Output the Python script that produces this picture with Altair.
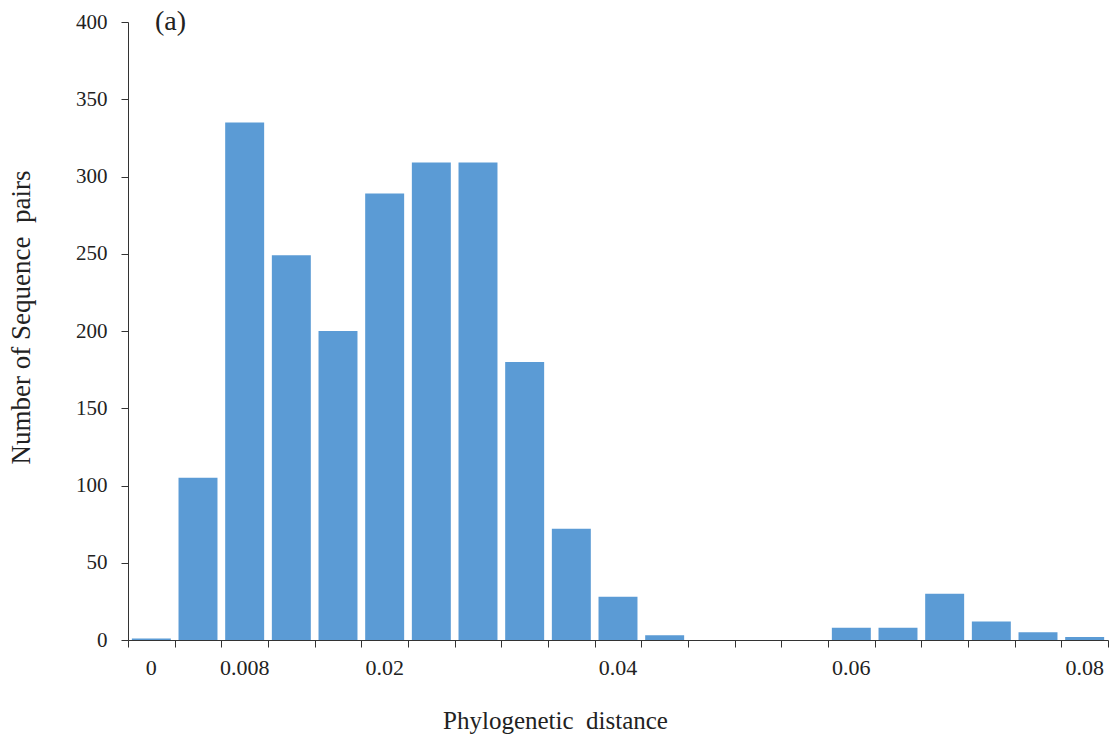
import altair as alt
import pandas as pd

# bin centres (phylogenetic distance) and counts
distance = [0.000, 0.004, 0.008, 0.012, 0.016, 0.020, 0.024, 0.028, 0.032, 0.036,
            0.040, 0.044, 0.048, 0.052, 0.056, 0.060, 0.064, 0.068, 0.072, 0.076, 0.080]
counts = [1, 105, 335, 249, 200, 289, 309, 309, 180, 72,
          28, 3, 0, 0, 0, 8, 8, 30, 12, 5, 2]

label_values = [0.0, 0.008, 0.02, 0.04, 0.06, 0.08]
label_texts = ["0", "0.008", "0.02", "0.04", "0.06", "0.08"]

boundaries = [round(-0.002 + 0.004 * i, 3) for i in range(22)]

df = pd.DataFrame({"dist": distance, "count": counts})
lab = pd.DataFrame({"x": label_values, "text": label_texts})

FONT = "Liberation Serif"
W, H = 980, 618
half = 0.00167

xscale = alt.Scale(domain=[-0.002, 0.082], nice=False, zero=False)

bars = alt.Chart(df).transform_calculate(
    lo=f"datum.dist - {half}", hi=f"datum.dist + {half}"
).mark_bar(color="#5B9BD5").encode(
    x=alt.X("lo:Q", scale=xscale,
            axis=alt.Axis(values=boundaries, labels=False, grid=False,
                          tickSize=7, tickColor="#333", domainColor="#333",
                          title="Phylogenetic\u00a0 distance", titleFont=FONT,
                          titleFontSize=25, titleFontWeight="normal",
                          titleColor="#222", titleX=427, titleY=80,
                          titleAlign="center", titleBaseline="middle")),
    x2="hi:Q",
    y=alt.Y("count:Q", scale=alt.Scale(domain=[0, 400], nice=False),
            axis=alt.Axis(values=list(range(0, 401, 50)), grid=False,
                          tickSize=7, tickColor="#333", domainColor="#333",
                          labelFont=FONT, labelFontSize=21, labelColor="#222",
                          labelPadding=14,
                          title="Number of Sequence\u00a0 pairs", titleFont=FONT,
                          titleFontSize=27, titleFontWeight="normal",
                          titleColor="#222", titlePadding=40,
                          titleY=295, titleAlign="center")),
    y2=alt.datum(0),
)

xlabels = alt.Chart(lab).mark_text(
    font=FONT, fontSize=22, color="#222", baseline="middle", align="center"
).encode(
    x=alt.X("x:Q", scale=xscale),
    y=alt.value(H + 28),
    text="text:N",
)

panel = alt.Chart(pd.DataFrame({"t": ["(a)"]})).mark_text(
    font=FONT, fontSize=28, color="#222", align="left", baseline="middle"
).encode(x=alt.value(27), y=alt.value(0), text="t:N")

chart = alt.layer(bars, xlabels, panel).properties(
    width=W, height=H,
    autosize=alt.AutoSizeParams(type="none"),
    padding={"left": 128, "top": 22, "right": 10, "bottom": 103},
).configure(background="white").configure_view(stroke=None)

chart.save("out.html", embed_options={"renderer": "svg", "actions": False})
